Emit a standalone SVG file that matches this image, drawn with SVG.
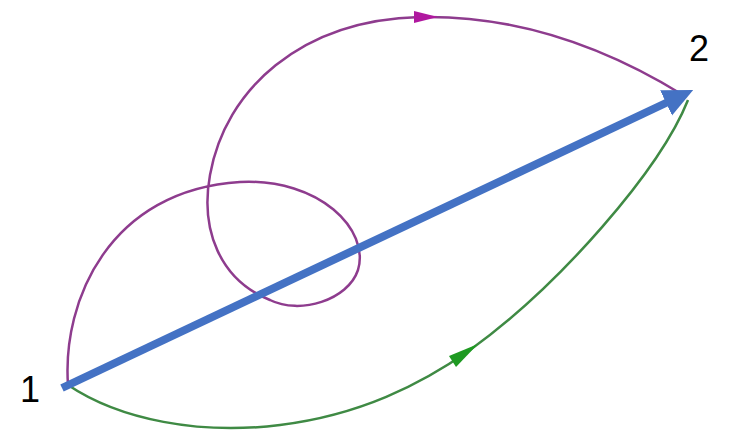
<svg xmlns="http://www.w3.org/2000/svg" width="731" height="434" viewBox="0 0 731 434">
<defs>
<style>
.lbl{font-family:"Liberation Sans","DejaVu Sans",sans-serif;font-size:36px;fill:#000}
.pp{fill:none;stroke:#8E3C8E;stroke-width:2.5}
.gp{fill:none;stroke:#3F8A44;stroke-width:2.5}
</style>
<marker id="bh" markerUnits="userSpaceOnUse" markerWidth="30" markerHeight="30" viewBox="0 0 28 26" refX="2" refY="13" orient="auto">
<path d="M0,0 L28,13 L0,26 Z" fill="#4472C4"/>
</marker>
</defs>
<rect width="731" height="434" fill="#fff"/>
<g id="connectors">
<path id="purple" class="pp" d="M68,385 C62,300 110,190 240,182 C320,178 370,230 358,270 C348,300 300,315 270,300 C220,280 200,230 210,175 C225,90 300,20 420,17 C520,15 610,50 683,95"/>
<polygon fill="#B0189F" points="438,17 414,11 414,23"/>
<path id="green" class="gp" d="M68,385 C120,420 200,435 280,425 C360,415 420,385 470,350 C560,285 660,170 688,100"/>
<polygon fill="#1E9A22" points="478,344 449,356 456,367"/>
<line x1="62" y1="388" x2="668" y2="102" stroke="#4472C4" stroke-width="8" marker-end="url(#bh)"/>
</g>
<g id="n1"><text class="lbl" x="20" y="402">1</text></g>
<g id="n2"><text class="lbl" x="689" y="61">2</text></g>
</svg>
